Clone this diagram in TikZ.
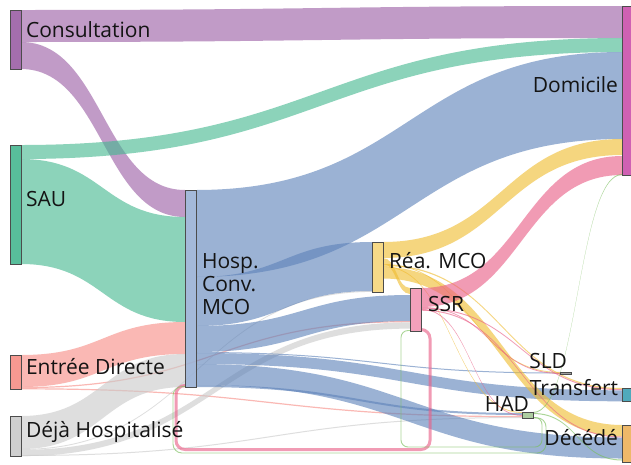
\documentclass[tikz,border=0pt]{standalone}
\usepackage{fontspec}
\setmainfont{Open Sans}
\usetikzlibrary{calc,backgrounds}
\definecolor{cPur}{RGB}{155,95,165}
\definecolor{cGrn}{RGB}{70,184,145}
\definecolor{cSal}{RGB}{247,142,134}
\definecolor{cGry}{RGB}{202,202,202}
\definecolor{cBlu}{RGB}{94,131,186}
\definecolor{cHospN}{RGB}{155,178,213}
\definecolor{cYel}{RGB}{240,189,50}
\definecolor{cReaN}{RGB}{246,213,122}
\definecolor{cPnk}{RGB}{234,94,134}
\definecolor{cSsrN}{RGB}{242,150,180}
\definecolor{cHad}{RGB}{120,190,90}
\definecolor{cHadN}{RGB}{165,200,150}
\definecolor{cDom}{RGB}{196,58,160}
\definecolor{cTra}{RGB}{36,149,172}
\definecolor{cDec}{RGB}{232,154,42}
\definecolor{cSld}{RGB}{150,150,150}
\newcommand\sankeylink[6]{%
  \path (#2.north east) ++(0,#3) coordinate (s1) ++(0,#4) coordinate (s2);
  \path (#5.north west) ++(0,#6) coordinate (t1) ++(0,#4) coordinate (t2);
  \path ($(s1)!0.5!(t1)$) coordinate (m);
  \fill[lk=#1] (s1) .. controls (m|-s1) and (m|-t1) .. (t1) -- (t2) .. controls (m|-t2) and (m|-s2) .. (s2) -- cycle;
}
\tikzset{
  nd/.style={rectangle, draw=black!70, line width=0.7pt, fill opacity=0.9, inner sep=0pt, outer sep=0pt, minimum width=11pt, anchor=north west},
  lab/.style={font=\fontsize{21}{23}\selectfont, text=black!92, inner sep=0pt, outer sep=0pt},
  lk/.style={fill=#1, fill opacity=0.62},
  circlink/.style={draw=#1, draw opacity=0.62, fill=none}
}
\begin{document}
\begin{tikzpicture}[x=1pt,y=-1pt]
\useasboundingbox (0,0) rectangle (631,464);
% nodes
\node[nd, fill=cPur, minimum height=59pt] (cons) at (10,10) {};
\node[nd, fill=cGrn, minimum height=119pt] (sau) at (10,145) {};
\node[nd, fill=cSal, minimum height=34pt] (entree) at (10,355) {};
\node[nd, fill=cGry, minimum height=40pt] (deja) at (10,416) {};
\node[nd, fill=cHospN, minimum height=197pt] (hosp) at (185,190) {};
\node[nd, fill=cReaN, minimum height=50pt] (rea) at (372,242) {};
\node[nd, fill=cSsrN, minimum height=43pt] (ssr) at (410,288) {};
\node[nd, fill=cSld, minimum height=2pt] (sld) at (560,372) {};
\node[nd, fill=cHadN, minimum height=6pt] (had) at (522,412) {};
\node[nd, fill=cTra, fill opacity=0.8, minimum height=13pt] (transfert) at (622,388) {};
\node[nd, fill=cDec, fill opacity=0.7, minimum height=37pt] (decede) at (622,425) {};
\node[nd, fill=cDom, fill opacity=0.8, minimum height=169pt] (dom) at (622,6) {};
% labels
\node[lab, anchor=base west] (tcons) at (26,37) {Consultation};
\node[lab, anchor=base west] (tsau) at (26,206) {SAU};
\node[lab, anchor=base west] (tentree) at (26,374) {Entrée Directe};
\node[lab, anchor=base west] (tdeja) at (26,437) {Déjà Hospitalisé};
\node[lab, anchor=west, align=left] (thosp) at (202,284) {Hosp.\\Conv.\\MCO};
\node[lab, anchor=base west] (trea) at (389,268) {Réa. MCO};
\node[lab, anchor=base west] (tssr) at (428,311) {SSR};
\node[lab, anchor=base east] (tsld) at (567,368) {SLD};
\node[lab, anchor=base east] (thad) at (529,411) {HAD};
\node[lab, anchor=base east] (ttransfert) at (618,395) {Transfert};
\node[lab, anchor=base east] (tdecede) at (618,445) {Décédé};
\node[lab, anchor=base east] (tdom) at (618,92) {Domicile};
% links
\begin{scope}[on background layer]
\fill[white] (0,0) rectangle (631,464);
\sankeylink{cPur}{cons}{0}{32}{dom}{0}
\sankeylink{cPur}{cons}{32}{27}{hosp}{0}
\sankeylink{cGrn}{sau}{0}{14}{dom}{32}
\sankeylink{cGrn}{sau}{14}{105}{hosp}{27}
\sankeylink{cSal}{entree}{0}{32}{hosp}{132}
\sankeylink{cSal}{entree}{32}{1.2}{ssr}{33}
\sankeylink{cSal}{entree}{33.2}{1.2}{had}{4}
\sankeylink{cGry}{deja}{0}{33}{hosp}{164}
\sankeylink{cGry}{deja}{33}{0.9}{rea}{49}
\sankeylink{cGry}{deja}{33.9}{6.2}{ssr}{34.4}
\sankeylink{cGry}{deja}{39}{1}{had}{5}
\sankeylink{cBlu}{hosp}{0}{87}{dom}{46}
\sankeylink{cBlu}{hosp}{87}{49}{rea}{0}
\sankeylink{cBlu}{hosp}{136}{26}{ssr}{7}
\sankeylink{cBlu}{hosp}{162}{1}{sld}{0.5}
\sankeylink{cBlu}{hosp}{163}{11}{transfert}{2.3}
\sankeylink{cBlu}{hosp}{174}{21}{decede}{12.5}
\sankeylink{cBlu}{hosp}{195}{2}{had}{1}
\sankeylink{cYel}{rea}{0}{16}{dom}{133}
\sankeylink{cYel}{rea}{16}{6}{ssr}{0}
\sankeylink{cYel}{rea}{22}{0.8}{sld}{0}
\sankeylink{cYel}{rea}{22.8}{1.2}{transfert}{0}
\sankeylink{cYel}{rea}{24}{0.9}{had}{0}
\sankeylink{cYel}{rea}{25}{11.5}{decede}{0}
\sankeylink{cPnk}{ssr}{0}{19}{dom}{150}
\sankeylink{cPnk}{ssr}{19}{0.8}{sld}{1}
\sankeylink{cPnk}{ssr}{19.8}{1}{transfert}{1.2}
\sankeylink{cPnk}{ssr}{20.8}{0.9}{had}{3}
\sankeylink{cPnk}{ssr}{21.7}{1}{decede}{11.5}
\sankeylink{cHad}{had}{0}{1}{dom}{168}
\sankeylink{cHad}{had}{1}{1}{decede}{34.5}
% circular links
\draw[circlink=cPnk, line width=3pt, rounded corners=9pt]
  ($(ssr.south east)+(0,-1.5)$) -- (430,329.5) -- (430,449.5) -- (176,449.5) -- (176,385.5) -- ($(hosp.south west)+(0,-1.5)$);
\draw[circlink=cHad, line width=0.9pt, rounded corners=7pt]
  ($(had.south east)+(0,-0.5)$) -- (542,417.5) -- (542,447) -- (401,447) -- (401,330.5) -- ($(ssr.south west)+(0,-0.5)$);
\draw[circlink=cHad, line width=0.9pt, rounded corners=9pt]
  ($(had.south east)+(0,-0.2)$) -- (546,417.8) -- (546,453) -- (173,453) -- (173,386.6) -- ($(hosp.south west)+(0,-0.4)$);
\end{scope}
\end{tikzpicture}
\end{document}
